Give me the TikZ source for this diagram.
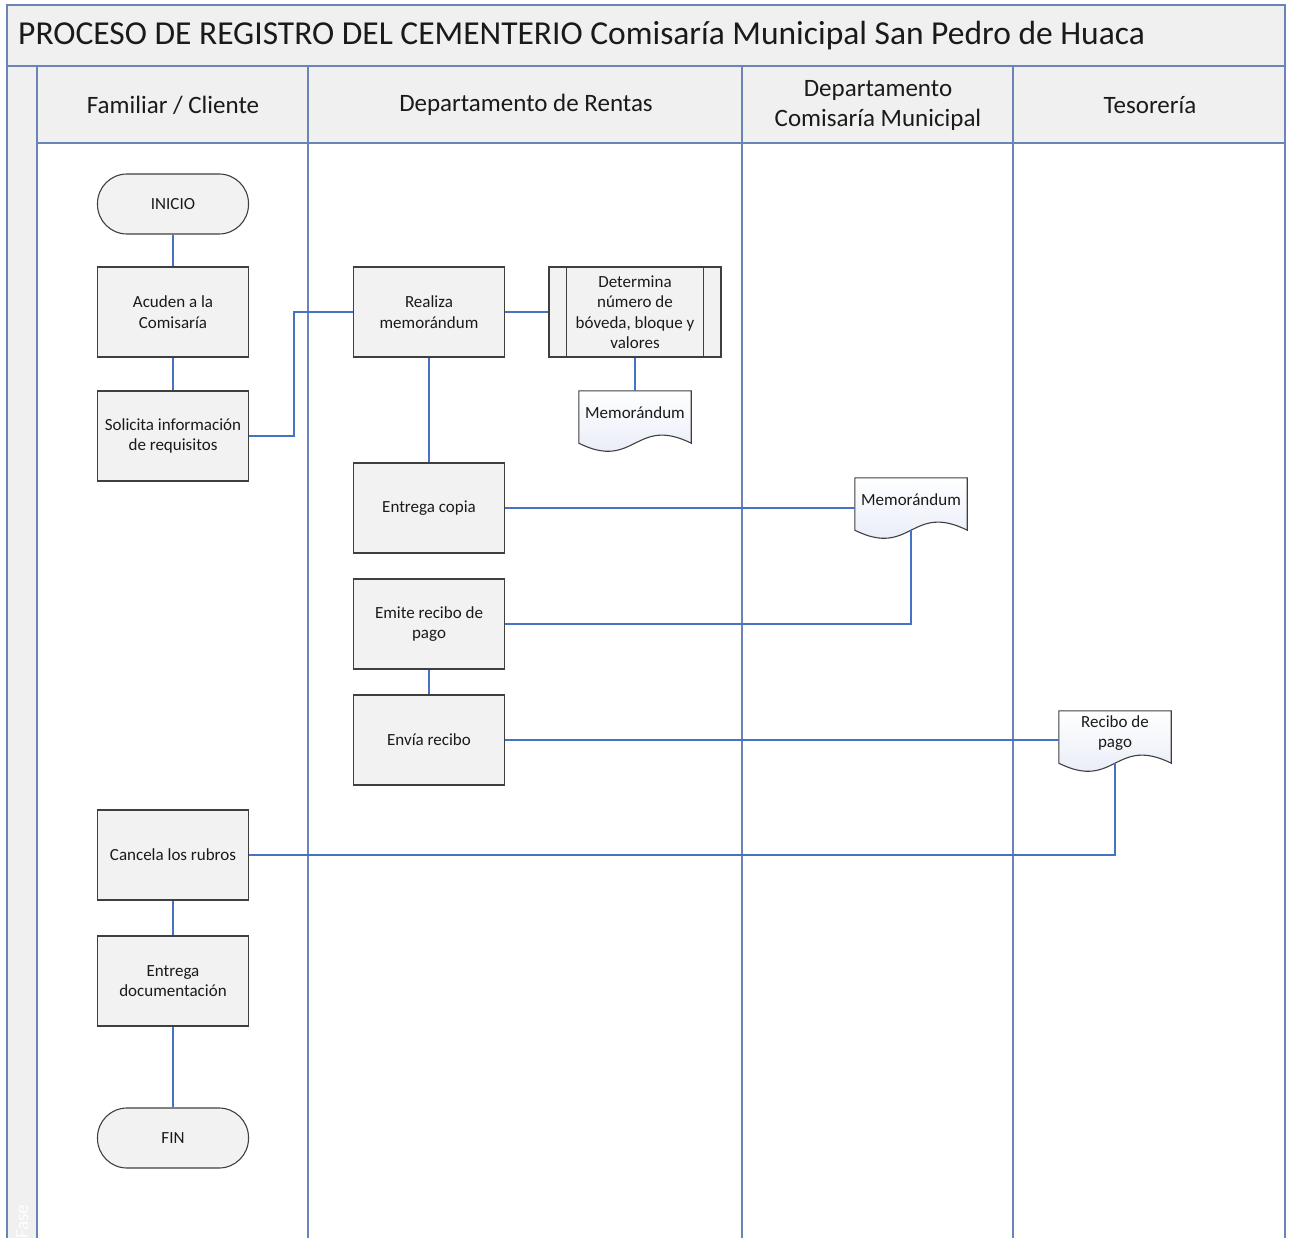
\documentclass[tikz,border=0pt]{standalone}
\usepackage{fontspec}
\setmainfont{Carlito}
\usetikzlibrary{calc}
\definecolor{frameblue}{HTML}{6B84B8}
\definecolor{linkblue}{HTML}{4472C4}
\definecolor{headfill}{HTML}{F0F0F0}
\definecolor{boxfill}{HTML}{F2F2F2}
\definecolor{boxline}{HTML}{3F3F3F}
\definecolor{docfill}{HTML}{E3E8F6}
\definecolor{inktext}{HTML}{1A1A1A}

% document symbol drawn around a named node: wavy lower edge
\newcommand\docsymbol[1]{%
  \path[draw=boxline, line width=1.1pt, top color=white, bottom color=docfill]
    (#1.north west) -- (#1.north east) -- ($(#1.south east)+(0,8)$)
    .. controls ($(#1.south)+(0,-20)$) and ($(#1.south)+(0,36)$) ..
    ($(#1.south west)+(0,8)$) -- cycle;}

\begin{document}
\begin{tikzpicture}[x=1pt,y=-1pt,
  every node/.style={font=\fontsize{17}{20.5}\selectfont, text=inktext},
  lane/.style={draw=frameblue, line width=1.6pt},
  link/.style={draw=linkblue, line width=1.5pt},
  procbox/.style={draw=boxline, fill=boxfill, line width=1.1pt,
    minimum width=151pt, minimum height=90pt, align=center, inner sep=3pt},
  termbox/.style={draw=boxline, fill=boxfill, line width=1.1pt,
    minimum width=151pt, minimum height=60pt, rounded corners=29.5pt, inner sep=3pt},
  predbox/.style={draw=boxline, fill=boxfill, line width=1.1pt,
    minimum width=172pt, minimum height=90pt, align=center, inner sep=3pt},
  docnode/.style={minimum width=112pt, minimum height=44pt, align=center, inner sep=2pt},
  headtext/.style={font=\fontsize{25}{30}\selectfont, align=center},
]
% canvas
\fill[white] (0,0) rectangle (1292,1238);
\useasboundingbox (0,0) rectangle (1292,1238);

% pool, title band, lane headers and phase strip
\fill[headfill] (7,5) rectangle (1285,66);
\fill[headfill] (37,66) rectangle (1285,143);
\fill[headfill] (7,66) rectangle (37,1238);
\draw[lane] (7,1238) -- (7,5) -- (1285,5) -- (1285,1238);
\draw[lane] (7,66) -- (1285,66);
\draw[lane] (37,143) -- (1285,143);
\foreach \lx in {37,308,742,1013} \draw[lane] (\lx,66) -- (\lx,1238);

\node[anchor=west, inner sep=0, font=\fontsize{33.5}{38}\selectfont] (title) at (18,36)
  {PROCESO DE REGISTRO DEL CEMENTERIO Comisaría Municipal San Pedro de Huaca};
\node[headtext] (h1) at (173,105) {Familiar / Cliente};
\node[headtext] (h2) at (526,105) {Departamento de Rentas};
\node[headtext] (h3) at (878,105) {Departamento\\Comisaría Municipal};
\node[headtext] (h4) at (1150,105) {Tesorería};
\node[rotate=90, anchor=west, inner sep=0, text=white, font=\fontsize{19}{19}\selectfont] (fase) at (22,1239) {Fase};

% anchor points of the flow symbols
\coordinate (ini) at (173,204);
\coordinate (acu) at (173,312);
\coordinate (sol) at (173,436);
\coordinate (rea) at (429,312);
\coordinate (det) at (635,312);
\coordinate (m1c) at (635,413);
\coordinate (ent) at (429,508);
\coordinate (m2c) at (911,500);
\coordinate (emi) at (429,624);
\coordinate (env) at (429,740);
\coordinate (recc) at (1115,733);
\coordinate (can) at (173,855);
\coordinate (doc) at (173,981);
\coordinate (fin) at (173,1138);

% nodes
\node[termbox] (inicio) at (ini) {INICIO};
\node[procbox] (acuden) at (acu) {Acuden a la\\Comisaría};
\node[procbox] (solicita) at (sol) {Solicita información\\de requisitos};
\node[procbox] (realiza) at (rea) {Realiza\\memorándum};
\node[predbox] (determina) at (det) {Determina\\número de\\bóveda, bloque y\\valores};
\draw[boxline, line width=1.1pt]
  ($(determina.north west)+(18,0)$) -- ($(determina.south west)+(18,0)$)
  ($(determina.north east)+(-18,0)$) -- ($(determina.south east)+(-18,0)$);
\node[procbox] (entrega) at (ent) {Entrega copia};
\node[procbox] (emite) at (emi) {Emite recibo de\\pago};
\node[procbox] (envia) at (env) {Envía recibo};
\node[procbox] (cancela) at (can) {Cancela los rubros};
\node[procbox] (entdoc) at (doc) {Entrega\\documentación};
\node[termbox] (finnode) at (fin) {FIN};

\node[docnode] (memo1) at (m1c) {};
\docsymbol{memo1}
\node[docnode] at (memo1) {Memorándum};
\node[docnode] (memo2) at (m2c) {};
\docsymbol{memo2}
\node[docnode] at (memo2) {Memorándum};
\node[docnode] (recibo) at (recc) {};
\docsymbol{recibo}
\node[docnode] at (recibo) {Recibo de\\pago};

% flow lines
\draw[link] (inicio) -- (acuden);
\draw[link] (acuden) -- (solicita);
\draw[link] (solicita.east) -- ++(45,0) |- (realiza.west);
\draw[link] (realiza.east) -- (determina.west);
\draw[link] (determina.south) -- (memo1.north);
\draw[link] (realiza.south) -- (entrega.north);
\draw[link] (entrega.east) -- (entrega.east -| memo2.west);
\draw[link] ($(memo2.south)+(0,8)$) |- (emite.east);
\draw[link] (emite) -- (envia);
\draw[link] (envia.east) -- (envia.east -| recibo.west);
\draw[link] ($(recibo.south)+(0,8)$) |- (cancela.east);
\draw[link] (cancela) -- (entdoc);
\draw[link] (entdoc) -- (finnode);
\end{tikzpicture}
\end{document}
